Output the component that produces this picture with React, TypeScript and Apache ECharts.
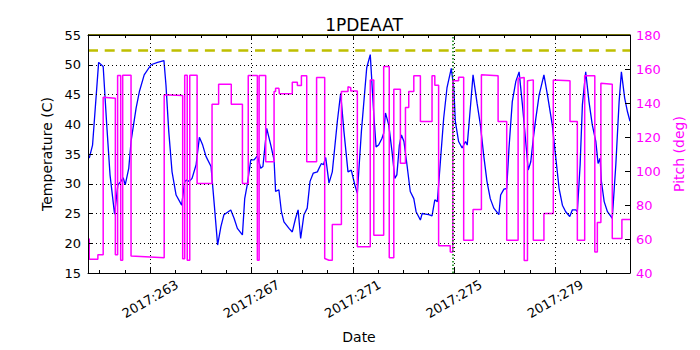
import React, { useEffect, useRef } from "react";
import * as echarts from "echarts";

const TITLE = "1PDEAAT";
const YEAR_LABEL = "2017";
const X_MIN = 260.54;
const X_MAX = 281.95;
const MAJOR_DAYS = [263, 267, 271, 275, 279];
const MINOR_DAYS = [261, 262, 264, 265, 266, 268, 269, 270, 272, 273, 274, 276, 277, 278, 280, 281];
const TEMP_MIN = 15;
const TEMP_MAX = 55;
const TEMP_STEP = 5;
const PITCH_MIN = 40;
const PITCH_MAX = 180;
const PITCH_STEP = 20;
const TEMP_LIMIT = 52.5;
const TEMP_TOP_LIMIT = 55;
const EVENT_DAY = 274.95;

const TEMP_DAY = [
  260.59, 260.72, 260.96, 261.14, 261.28, 261.41, 261.59, 261.72, 261.84, 261.93,
  262.01, 262.15, 262.24, 262.30, 262.44, 262.57, 262.76, 263.03, 263.29, 263.54,
  263.62, 263.73, 263.86, 264.02, 264.24, 264.36, 264.44, 264.54, 264.65, 264.81,
  264.94, 265.07, 265.20, 265.40, 265.53, 265.66, 265.79, 265.91, 266.18, 266.31,
  266.44, 266.64, 266.73, 266.83, 266.97, 267.10, 267.23, 267.36, 267.45, 267.60,
  267.76, 267.89, 267.95, 268.08, 268.18, 268.28, 268.48, 268.61, 268.74, 268.84,
  268.94, 269.07, 269.20, 269.31, 269.44, 269.60, 269.70, 269.76, 269.84, 269.93,
  270.06, 270.19, 270.39, 270.52, 270.65, 270.81, 270.94, 271.08, 271.18, 271.34,
  271.55, 271.69, 271.83, 271.92, 272.02, 272.15, 272.22, 272.29, 272.42, 272.55,
  272.66, 272.74, 272.84, 272.92, 273.02, 273.14, 273.27, 273.41, 273.50, 273.67,
  273.74, 273.87, 274.00, 274.13, 274.24, 274.34, 274.47, 274.59, 274.72, 274.89,
  274.99, 275.05, 275.18, 275.32, 275.45, 275.52, 275.60, 275.75, 275.91, 276.04,
  276.17, 276.30, 276.43, 276.57, 276.77, 276.84, 276.97, 277.08, 277.17, 277.30,
  277.44, 277.57, 277.70, 277.83, 277.93, 278.03, 278.13, 278.23, 278.36, 278.55,
  278.69, 278.88, 279.02, 279.15, 279.28, 279.41, 279.57, 279.67, 279.81, 279.87,
  279.98, 280.07, 280.20, 280.33, 280.46, 280.60, 280.69, 280.77, 280.82, 280.93,
  281.06, 281.25, 281.39, 281.52, 281.61, 281.74, 281.85, 281.95,
];
const TEMP_C = [
  34.3, 36.5, 50.4, 49.7, 39.9, 31.5, 24.9, 29.8, 30.4, 31.0,
  29.8, 32.6, 37.1, 38.8, 42.7, 45.5, 48.3, 50.0, 50.4, 50.7,
  46.6, 38.8, 32.0, 28.1, 26.4, 30.4, 30.6, 30.4, 30.9, 33.2,
  37.8, 36.5, 34.6, 32.9, 26.4, 19.7, 22.8, 24.8, 25.6, 24.2,
  22.5, 21.4, 27.5, 29.8, 34.0, 34.0, 34.7, 32.6, 32.9, 39.3,
  36.5, 34.0, 28.7, 29.0, 25.3, 23.6, 22.5, 21.9, 24.2, 25.6,
  20.8, 24.8, 25.9, 30.4, 31.8, 32.0, 32.9, 33.4, 33.2, 34.4,
  30.1, 32.0, 40.5, 45.2, 38.8, 32.0, 32.3, 29.8, 28.4, 38.8,
  49.5, 51.7, 41.6, 36.2, 36.5, 37.6, 38.5, 41.9, 39.9, 35.4,
  30.9, 31.5, 36.5, 38.2, 37.1, 33.2, 28.7, 27.5, 25.3, 23.9,
  25.0, 24.9, 24.8, 24.6, 27.3, 27.0, 34.3, 41.0, 46.1, 49.4,
  46.1, 40.5, 37.1, 36.0, 37.1, 36.5, 40.5, 48.3, 43.5, 39.9,
  34.8, 30.4, 27.5, 25.9, 24.8, 28.1, 29.1, 29.2, 36.0, 43.8,
  47.2, 48.8, 43.3, 37.1, 32.3, 33.7, 37.6, 41.0, 44.9, 48.3,
  44.9, 39.9, 34.3, 29.2, 26.4, 25.3, 24.5, 25.6, 25.6, 25.3,
  33.2, 43.3, 48.8, 43.8, 39.9, 37.1, 33.4, 34.3, 30.4, 27.0,
  25.3, 24.2, 33.2, 43.8, 48.8, 44.4, 42.1, 40.5,
];

const PITCH_DAY = [
  260.59, 260.59, 260.93, 260.93, 261.14, 261.14, 261.62, 261.62, 261.71, 261.71,
  261.83, 261.83, 261.91, 261.91, 262.24, 262.24, 263.55, 263.55, 264.28, 264.28,
  264.36, 264.36, 264.46, 264.46, 264.56, 264.56, 264.85, 264.85, 265.44, 265.44,
  265.70, 265.70, 266.20, 266.20, 266.64, 266.64, 266.87, 266.87, 267.23, 267.23,
  267.30, 267.30, 267.56, 267.56, 267.89, 267.89, 267.95, 267.95, 268.08, 268.10,
  268.61, 268.61, 268.81, 268.81, 268.97, 268.97, 269.18, 269.18, 269.57, 269.57,
  269.89, 269.89, 270.06, 270.19, 270.19, 270.55, 270.55, 270.81, 270.81, 270.92,
  270.92, 271.18, 271.18, 271.69, 271.69, 271.83, 271.83, 272.22, 272.22, 272.44,
  272.44, 272.62, 272.62, 272.88, 272.88, 273.08, 273.08, 273.21, 273.21, 273.41,
  273.41, 273.67, 273.67, 274.13, 274.13, 274.24, 274.24, 274.39, 274.39, 274.85,
  274.85, 274.95, 274.95, 275.18, 275.18, 275.38, 275.38, 275.75, 275.75, 276.08,
  276.08, 276.74, 276.74, 277.08, 277.08, 277.53, 277.53, 277.77, 277.77, 277.90,
  277.90, 278.13, 278.13, 278.55, 278.55, 278.92, 278.92, 279.58, 279.58, 279.87,
  279.87, 280.16, 280.16, 280.56, 280.56, 280.66, 280.66, 280.80, 280.80, 281.25,
  281.25, 281.63, 281.63, 281.95,
];
const PITCH_DEG = [
  60.3, 48.1, 48.1, 50.8, 50.8, 143.4, 142.8, 50.8, 50.8, 156.2,
  156.2, 47.5, 47.5, 156.3, 156.3, 50.0, 48.9, 144.8, 144.4, 48.4,
  48.4, 156.3, 156.3, 47.5, 47.5, 156.3, 156.3, 92.7, 92.7, 139.3,
  139.3, 151.1, 151.1, 139.3, 139.3, 92.7, 92.7, 156.2, 156.2, 47.5,
  47.5, 156.2, 156.2, 105.5, 105.5, 146.7, 146.7, 148.7, 148.7, 145.4,
  145.4, 152.2, 152.2, 150.3, 150.3, 156.0, 156.0, 105.5, 105.5, 155.0,
  155.0, 48.5, 47.5, 47.5, 68.5, 68.5, 146.7, 146.7, 149.6, 149.0,
  147.0, 147.0, 55.4, 55.4, 153.6, 153.6, 62.2, 62.2, 161.5, 161.5,
  48.9, 48.9, 148.1, 148.1, 104.5, 104.5, 137.3, 137.3, 146.7, 146.7,
  156.0, 156.0, 129.1, 129.1, 156.0, 156.0, 150.5, 150.5, 56.0, 56.0,
  52.4, 52.4, 153.1, 153.1, 155.2, 155.2, 59.3, 59.3, 77.4, 77.4,
  156.6, 156.0, 129.1, 129.1, 59.3, 59.3, 154.6, 155.0, 47.3, 47.3,
  153.1, 153.6, 59.3, 59.3, 75.0, 75.0, 153.6, 153.1, 129.1, 129.1,
  59.3, 59.3, 156.0, 156.0, 52.4, 52.4, 69.7, 69.7, 151.6, 151.0,
  60.3, 60.3, 71.5, 71.5,
];

const FONT = "DejaVu Sans";
const MAGENTA = "#ff00ff";
const BLUE = "#0000ff";

function xAxisBase(position: "top" | "bottom", ticks: number[], len: number, showLine: boolean) {
  return {
    type: "value",
    position,
    min: X_MIN,
    max: X_MAX,
    z: 10,
    axisLine: { show: showLine, onZero: false, lineStyle: { color: "#000", width: 1 } },
    axisTick: { show: true, inside: true, length: len, customValues: ticks, lineStyle: { color: "#000", width: 1 } },
    axisLabel: { show: false },
    splitLine: { show: false },
  };
}

export default function App() {
  const ref = useRef<HTMLDivElement>(null);
  useEffect(() => {
    if (!ref.current) return;
    const chart = echarts.init(ref.current, undefined, { renderer: "svg" });
    const tempData = TEMP_DAY.map((d, i) => [d, TEMP_C[i]]);
    const pitchData = PITCH_DAY.map((d, i) => [d, PITCH_DEG[i]]);
    const mainX: any = xAxisBase("bottom", MAJOR_DAYS, 5, true);
    mainX.axisLabel = {
      show: true,
      customValues: MAJOR_DAYS,
      formatter: (v: number) => `${YEAR_LABEL}:${Math.round(v)}`,
      rotate: 30,
      align: "center",
      verticalAlign: "middle",
      margin: 26,
      fontFamily: FONT,
      fontSize: 13,
      color: "#000",
    };
    mainX.splitLine = { show: true, lineStyle: { color: "#000", width: 1, type: [1, 3] } };
    mainX.name = "Date";
    mainX.nameLocation = "middle";
    mainX.nameGap = 57;
    mainX.nameTextStyle = { fontFamily: FONT, fontSize: 14, color: "#000" };

    const option: any = {
      animation: false,
      backgroundColor: "#ffffff",
      textStyle: { fontFamily: FONT },
      title: {
        text: TITLE,
        left: 359,
        top: 11,
        textAlign: "center",
        textStyle: { fontFamily: FONT, fontSize: 17, fontWeight: "normal", color: "#000" },
      },
      grid: { left: 88, right: 70, top: 35, bottom: 77, containLabel: false, outerBoundsMode: "none" },
      xAxis: [
        mainX,
        xAxisBase("bottom", MINOR_DAYS, 3, false),
        xAxisBase("top", MAJOR_DAYS, 5, true),
        xAxisBase("top", MINOR_DAYS, 3, false),
      ],
      yAxis: [
        {
          type: "value",
          position: "left",
          min: TEMP_MIN,
          max: TEMP_MAX,
          interval: TEMP_STEP,
          z: 10,
          name: "Temperature (C)",
          nameLocation: "middle",
          nameGap: 31,
          nameTextStyle: { fontFamily: FONT, fontSize: 14, color: "#000" },
          axisLine: { show: true, onZero: false, lineStyle: { color: "#000", width: 1 } },
          axisTick: { show: true, inside: true, length: 5, lineStyle: { color: "#000" } },
          axisLabel: { fontFamily: FONT, fontSize: 13, color: "#000", margin: 7 },
          splitLine: { show: true, lineStyle: { color: "#000", width: 1, type: [1, 3] } },
        },
        {
          type: "value",
          position: "right",
          min: PITCH_MIN,
          max: PITCH_MAX,
          interval: PITCH_STEP,
          z: 10,
          name: "Pitch (deg)",
          nameLocation: "middle",
          nameGap: 29,
          nameTextStyle: { fontFamily: FONT, fontSize: 14, color: MAGENTA },
          axisLine: { show: true, onZero: false, lineStyle: { color: "#000", width: 1 } },
          axisTick: { show: true, inside: true, length: 5, lineStyle: { color: "#000" } },
          axisLabel: { fontFamily: FONT, fontSize: 13, color: MAGENTA, margin: 6 },
          splitLine: { show: false },
        },
      ],
      series: [
        {
          type: "line",
          name: "temperature",
          xAxisIndex: 0,
          yAxisIndex: 0,
          data: tempData,
          showSymbol: false,
          symbol: "none",
          lineStyle: { color: BLUE, width: 1.3 },
          itemStyle: { color: BLUE },
          z: 2,
          markLine: {
            silent: true,
            symbol: ["none", "none"],
            label: { show: false },
            animation: false,
            z: 4,
            data: [
              { yAxis: TEMP_LIMIT, lineStyle: { color: "#bfbf00", width: 2.5, type: [10, 6.7] } },
              { yAxis: TEMP_TOP_LIMIT, lineStyle: { color: "#6e6e08", width: 2, type: "solid" } },
              { xAxis: EVENT_DAY, lineStyle: { color: "#008000", width: 1.5, type: [1.5, 2] } },
            ],
          },
        },
        {
          type: "line",
          name: "pitch",
          xAxisIndex: 0,
          yAxisIndex: 1,
          data: pitchData,
          showSymbol: false,
          symbol: "none",
          lineStyle: { color: MAGENTA, width: 1.5 },
          itemStyle: { color: MAGENTA },
          z: 3,
        },
      ],
    };
    chart.setOption(option);
    return () => chart.dispose();
  }, []);
  return (
    <div
      ref={ref}
      style={{ position: "absolute", left: 0, top: 0, width: 700, height: 350, background: "#fff" }}
    />
  );
}
